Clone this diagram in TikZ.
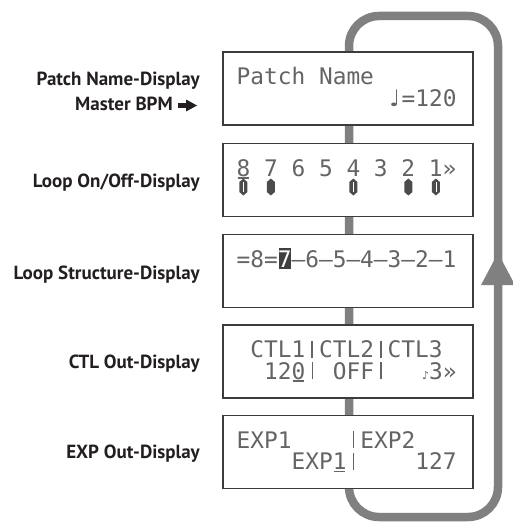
\documentclass[tikz,border=0pt]{standalone}
\usepackage{fontspec}
\newfontfamily\lcdfont{DejaVu Sans Mono}
\newfontfamily\symfont{DejaVu Sans}
\newfontfamily\lblfont{PT Sans}
\definecolor{loopgray}{RGB}{128,128,128}
\definecolor{lcdgray}{RGB}{100,100,100}
\definecolor{lblcol}{RGB}{35,31,32}
\definecolor{boxline}{RGB}{60,60,60}
\newcommand\lcdsize{\fontsize{22.8}{22.8}\selectfont}
\newcommand\lcdbar{\makebox[0.602em]{\rule{0.065em}{0.73em}}}
\newcommand\lcdul[1]{\makebox[0.602em]{\makebox[0pt]{\rule[-0.13em]{0.5em}{0.07em}}\makebox[0pt]{#1}}}
\newcommand\lcdinv[1]{\makebox[0.602em]{\makebox[0pt]{\textcolor{black!75}{\rule[-0.08em]{0.54em}{0.9em}}}\makebox[0pt]{\textcolor{white}{#1}}}}
\newcommand\qnote{\makebox[0.602em]{\symfont ♩}}
\newcommand\enote{\makebox[0.602em][r]{\symfont\fontsize{11}{11}\selectfont ♪}}
\tikzset{
  jack/.pic={\fill[black!70] (0,-8.5) -- (4,-5) -- (4,5) -- (0,8.5) -- (-4,5) -- (-4,-5) -- cycle;},
  jackslit/.pic={\fill[black!70] (0,-8.5) -- (4,-5) -- (4,5) -- (0,8.5) -- (-4,5) -- (-4,-5) -- cycle;
                 \draw[white, line width=0.6pt] (0,-5) -- (0,5);}
}
\begin{document}
\begin{tikzpicture}[x=1pt,y=-1pt,
  lcdbox/.style={draw=boxline, line width=1.3pt, fill=white, minimum width=250pt, minimum height=73pt, inner sep=0pt},
  lcd/.style={font=\lcdfont\lcdsize, text=lcdgray, inner sep=0pt, anchor=base west},
  lbl/.style={font=\lblfont\bfseries\fontsize{19}{19}\selectfont, text=lblcol, inner sep=0pt, anchor=base east},
  loopline/.style={draw=loopgray, line width=8.5pt, rounded corners=30pt}]
\useasboundingbox (0,0) rectangle (513,527);
% loop
\coordinate (ls) at (349,300);
\coordinate (tl) at (349,16);
\coordinate (tr) at (498,16);
\coordinate (br) at (498,517);
\coordinate (bl) at (349,517);
\draw[loopline] (ls) -- (tl) -- (tr) -- (br) -- (bl) -- cycle;
\coordinate (tip) at (498,253);
\fill[loopgray] (tip) -- ++(17,32) -- ++(-34,0) -- cycle;
% boxes
\node[lcdbox] (b1) at (348,88.5) {};
\node[lcdbox] (b2) at (348,180) {};
\node[lcdbox] (b3) at (348,271) {};
\node[lcdbox] (b4) at (348,361.5) {};
\node[lcdbox] (b5) at (348,452) {};
% box 1
\node[lcd] (t1a) at (236.5,84.5) {Patch Name};
\node[lcd] (t1b) at (236.5+13.75*11,106) {\qnote=120};
% box 2
\node[lcd] (t2a) at (236.5,176) {\lcdul{8} 7 6 5 4 3 2 1»};
\pic at (236.5+13.75*0+6.875,187) {jackslit};
\pic at (236.5+13.75*2+6.875,187) {jack};
\pic at (236.5+13.75*8+6.875,187) {jackslit};
\pic at (236.5+13.75*12+6.875,187) {jack};
\pic at (236.5+13.75*14+6.875,187) {jackslit};
% box 3
\node[lcd] (t3a) at (236.5,267) {=8=\lcdinv{7}–6–5–4–3–2–1};
% box 4
\node[lcd] (t4a) at (236.5+13.75*1,357.5) {CTL1\lcdbar CTL2\lcdbar CTL3};
\node[lcd] (t4b) at (236.5+13.75*2,379) {12\lcdul{0}\lcdbar};
\node[lcd] (t4c) at (236.5+13.75*7,379) {OFF\lcdbar};
\node[lcd] (t4d) at (236.5+13.75*13,379) {\enote 3»};
% box 5
\node[lcd] (t5a) at (236.5,448) {EXP1};
\node[lcd] (t5b) at (236.5+13.75*8,448) {\lcdbar EXP2};
\node[lcd] (t5c) at (236.5+13.75*4,469.5) {EXP\lcdul{1}\lcdbar};
\node[lcd] (t5d) at (236.5+13.75*13,469.5) {127};
% labels
\node[lbl] (l1) at (200,85) {Patch Name-Display};
\node[lbl] (l1b) at (173,110) {Master BPM};
\coordinate (ar) at (178,105.5);
\fill[lblcol] (ar) ++(0,-2.5) rectangle ++(10,5);
\fill[lblcol] (ar) ++(8,-6) -- ++(11,6) -- ++(-11,6) -- cycle;
\node[lbl] (l2) at (200,187) {Loop On/Off-Display};
\node[lbl] (l3) at (200,279) {Loop Structure-Display};
\node[lbl] (l4) at (200,368) {CTL Out-Display};
\node[lbl] (l5) at (200,458) {EXP Out-Display};
\end{tikzpicture}
\end{document}
